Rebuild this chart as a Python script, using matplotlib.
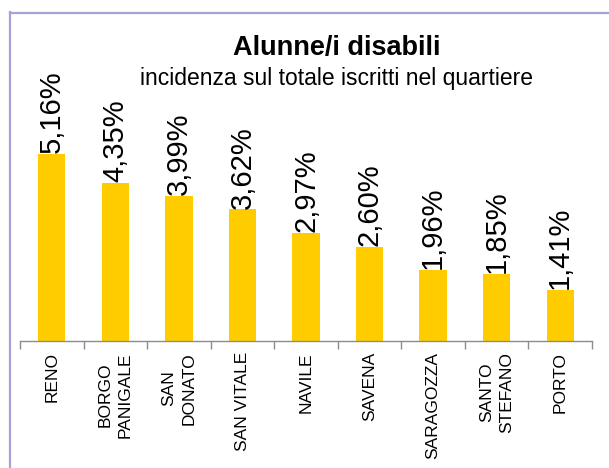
import matplotlib.pyplot as plt
from matplotlib.lines import Line2D

quartieri = ["RENO", "BORGO\nPANIGALE", "SAN\nDONATO", "SAN VITALE", "NAVILE",
             "SAVENA", "SARAGOZZA", "SANTO\nSTEFANO", "PORTO"]
incidenza = [5.16, 4.35, 3.99, 3.62, 2.97, 2.60, 1.96, 1.85, 1.41]

plt.rcParams['font.family'] = ['Liberation Sans', 'DejaVu Sans']

fig = plt.figure(figsize=(6.09, 4.68), dpi=100)
ax = fig.add_axes([20 / 609, 127 / 468, 572 / 609, 218 / 468])

pos = list(range(len(quartieri)))
ax.bar(pos, incidenza, width=0.43, color="#FFCC00", zorder=2)

for x, v in zip(pos, incidenza):
    lab = "{:.2f}%".format(v).replace(".", ",")
    ax.text(x, v + 0.02, lab, rotation=90, ha="center", va="bottom",
            fontsize=21, color="black", zorder=3)

ax.set_xlim(-0.5, len(quartieri) - 0.5)
ax.set_ylim(0, 6)
for s in ["top", "right", "left"]:
    ax.spines[s].set_visible(False)
ax.spines["bottom"].set_color("#8c8c8c")
ax.spines["bottom"].set_linewidth(1)
ax.set_yticks([])

ax.set_xticks(pos)
ax.set_xticklabels(quartieri, rotation=90, fontsize=12.5, va="top",
                   ha="center", multialignment="center", linespacing=1.4)
ax.tick_params(axis="x", which="major", length=0, pad=8)
ax.set_xticks([p - 0.5 for p in pos] + [len(pos) - 0.5], minor=True)
ax.tick_params(axis="x", which="minor", length=6, color="#8c8c8c", width=1)

fig.text(337 / 609, 1 - 48 / 468, "Alunne/i disabili", ha="center", va="center",
         fontsize=19.5, fontweight="bold")
fig.text(337 / 609, 1 - 78 / 468, "incidenza sul totale iscritti nel quartiere",
         ha="center", va="center", fontsize=16.5)

# cornice
fig.add_artist(Line2D([10 / 609, 10 / 609], [0, 1 - 12 / 468],
                      transform=fig.transFigure, color="#A3A3D8", lw=1.6))
fig.add_artist(Line2D([10 / 609, 1], [1 - 13 / 468, 1 - 13 / 468],
                      transform=fig.transFigure, color="#A3A3D8", lw=1.6))

fig.savefig("out.png", dpi=100)
